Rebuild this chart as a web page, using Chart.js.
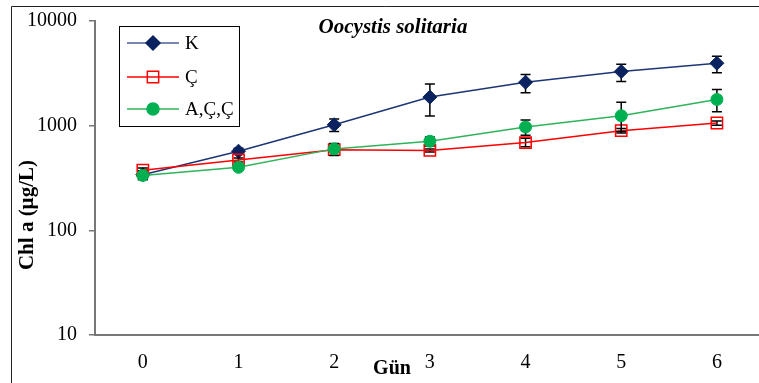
<!DOCTYPE html>
<html><head><meta charset="utf-8">
<script src="https://cdn.jsdelivr.net/npm/chart.js@4/dist/chart.umd.min.js"></script>
<style>html,body{margin:0;padding:0;background:#fff;overflow:hidden}#wrap{width:759px;height:383px;position:relative}</style>
</head><body><div id="wrap"><canvas id="c" width="759" height="383"></canvas></div>
<script>
const days = [0, 1, 2, 3, 4, 5, 6];
const yTicks = [10, 100, 1000, 10000];
const seriesNames = ['K', 'Ç', 'A,Ç,Ç'];
const kValues = [340, 570, 1020, 1875, 2600, 3290, 3950];
const kUpper  = [370, 610, 1160, 2500, 3080, 3870, 4610];
const kLower  = [310, 530, 880, 1240, 2060, 2640, 3200];
const cValues = [375, 470, 590, 580, 690, 895, 1060];
const cUpper  = [395, 490, 620, 600, 760, 940, 1110];
const cLower  = [355, 450, 560, 560, 630, 850, 1010];
const gValues = [335, 400, 600, 710, 970, 1245, 1780];
const gUpper  = [360, 425, 675, 780, 1130, 1670, 2220];
const gLower  = [305, 380, 520, 640, 810, 880, 1360];
const titleText = 'Oocystis solitaria';
const xTitle = 'Gün';
const yTitle = 'Chl a (µg/L)';

const errBars = [[kUpper, kLower], [cUpper, cLower], [gUpper, gLower]];
const toXY = arr => arr.map((v, i) => ({x: days[i], y: v}));

const errorBarPlugin = {
  id: 'errbars',
  beforeDatasetDraw(chart, args) {
    const i = args.index;
    const eb = errBars[i];
    if (!eb) return;
    const ctx = chart.ctx, xs = chart.scales.x, ys = chart.scales.y;
    ctx.save();
    ctx.strokeStyle = '#000';
    ctx.lineWidth = 1.5;
    days.forEach((d, j) => {
      const px = xs.getPixelForValue(d);
      const pt = ys.getPixelForValue(eb[0][j]);
      const pb = ys.getPixelForValue(eb[1][j]);
      ctx.beginPath();
      ctx.moveTo(px, pt); ctx.lineTo(px, pb);
      ctx.moveTo(px - 5, pt); ctx.lineTo(px + 5, pt);
      ctx.moveTo(px - 5, pb); ctx.lineTo(px + 5, pb);
      ctx.stroke();
    });
    ctx.restore();
  }
};

const decorPlugin = {
  id: 'decor',
  afterDraw(chart) {
    const ctx = chart.ctx;
    ctx.save();
    // frame
    ctx.strokeStyle = '#222';
    ctx.lineWidth = 1;
    ctx.beginPath();
    ctx.moveTo(11.5, 383); ctx.lineTo(11.5, 6.5); ctx.lineTo(759, 6.5);
    ctx.stroke();
    // title
    ctx.fillStyle = '#000';
    ctx.textAlign = 'center';
    ctx.textBaseline = 'middle';
    ctx.font = 'bold italic 21px "Liberation Serif"';
    ctx.fillText(titleText, 393, 28);
    ctx.font = 'bold 20px "Liberation Serif"';
    ctx.fillText(xTitle, 392, 369);
    ctx.save();
    ctx.translate(28, 215);
    ctx.rotate(-Math.PI / 2);
    ctx.font = 'bold 21px "Liberation Serif"';
    ctx.fillText(yTitle, 0, 0);
    ctx.restore();
    // legend
    ctx.strokeStyle = '#000';
    ctx.lineWidth = 1;
    ctx.strokeRect(119.5, 26.5, 120, 100);
    const ly = [43, 77, 109];
    chart.data.datasets.forEach((ds, i) => {
      const y = ly[i];
      ctx.strokeStyle = ds.legendLine || ds.borderColor;
      ctx.lineWidth = ds.borderWidth;
      ctx.beginPath(); ctx.moveTo(127, y); ctx.lineTo(179, y); ctx.stroke();
      ctx.fillStyle = ds.pointBackgroundColor;
      ctx.strokeStyle = ds.pointBorderColor;
      Chart.helpers.drawPoint(ctx, {pointStyle: ds.pointStyle, radius: ds.pointRadius, borderWidth: ds.pointBorderWidth, rotation: 0}, 153, y);
      ctx.fillStyle = '#000';
      ctx.textAlign = 'left';
      ctx.font = '19px "Liberation Serif"';
      ctx.fillText(seriesNames[i], 185, y + 1);
    });
    ctx.restore();
  }
};

new Chart(document.getElementById('c'), {
  type: 'line',
  data: {
    datasets: [
      {label: seriesNames[0], data: toXY(kValues), order: 3, borderColor: '#1c3575', legendLine: '#4a5f94', borderWidth: 1.5,
       pointStyle: 'rectRot', pointRadius: 7, pointBackgroundColor: '#0a2260', pointBorderColor: '#0a2260', pointBorderWidth: 1},
      {label: seriesNames[1], data: toXY(cValues), order: 2, borderColor: '#ff0000', borderWidth: 1.5,
       pointStyle: 'rect', pointRadius: 8, pointBackgroundColor: 'rgba(255,255,255,0)', pointBorderColor: '#ff0000', pointBorderWidth: 1.5},
      {label: seriesNames[2], data: toXY(gValues), order: 1, borderColor: '#2db45a', borderWidth: 1.5,
       pointStyle: 'circle', pointRadius: 6, pointBackgroundColor: '#00b050', pointBorderColor: '#00b050', pointBorderWidth: 1}
    ]
  },
  options: {
    responsive: false,
    animation: false,
    layout: {autoPadding: false, padding: {left: 0, top: 21, right: 0, bottom: 0}},
    plugins: {legend: {display: false}, tooltip: {enabled: false}},
    elements: {line: {tension: 0}},
    scales: {
      x: {
        type: 'linear', min: -0.5, max: 6.44,
        afterBuildTicks: s => { s.ticks = days.map(v => ({value: v})); },
        afterFit: s => { s.height = 48; s.paddingLeft = 0; s.paddingRight = 0; },
        grid: {display: true, drawOnChartArea: false, drawTicks: false},
        border: {color: '#777', width: 2},
        ticks: {padding: 16, color: '#000', font: {family: 'Liberation Serif', size: 20}, autoSkip: false, maxRotation: 0, callback: v => String(v)}
      },
      y: {
        type: 'logarithmic', min: 10, max: 10000,
        afterBuildTicks: s => { s.ticks = yTicks.map(v => ({value: v, major: true})); },
        afterFit: s => { s.width = 95; s.paddingTop = 0; s.paddingBottom = 0; },
        grid: {drawOnChartArea: false, drawTicks: true, tickLength: 6, color: '#777', lineWidth: 1.5},
        border: {color: '#777', width: 2},
        ticks: {padding: 12, color: '#000', font: {family: 'Liberation Serif', size: 20}, autoSkip: false, callback: v => String(v)}
      }
    }
  },
  plugins: [errorBarPlugin, decorPlugin]
});
</script></body></html>
